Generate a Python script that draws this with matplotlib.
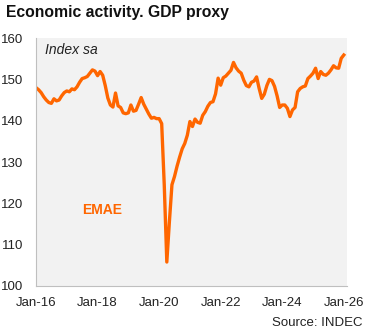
import numpy as np
import matplotlib
matplotlib.use("Agg")
from matplotlib import pyplot as plt

plt.rcParams["font.family"] = ["Liberation Sans", "DejaVu Sans"]

# EMAE monthly index (sa), Jan-2016 onwards
emae = [
    148.0, 147.5, 146.8, 145.8, 145.0, 144.4, 144.2, 145.3, 144.8, 145.0, 146.0, 146.8,  # 2016
    147.2, 147.0, 147.7, 147.5, 148.2, 149.3, 150.2, 150.4, 150.7, 151.5, 152.3, 152.0,  # 2017
    150.9, 151.9, 151.0, 148.5, 145.5, 143.8, 143.3, 146.7, 143.6, 143.2, 141.9, 141.7,  # 2018
    141.9, 143.8, 142.3, 142.5, 144.0, 145.6, 144.0, 142.8, 141.6, 140.6, 140.8, 140.5,  # 2019
    140.5, 139.3, 124.5, 105.8, 115.5, 124.5, 126.5, 129.0, 131.2, 133.2, 134.5, 136.5,  # 2020
    139.8, 138.6, 140.4, 139.6, 139.4, 141.3, 142.2, 143.5, 144.4, 144.6, 146.5, 150.3,  # 2021
    148.6, 150.4, 150.8, 151.5, 152.2, 154.1, 152.8, 152.0, 151.5, 149.8, 148.5, 148.2,  # 2022
    149.3, 149.6, 150.6, 147.8, 145.4, 146.4, 148.5, 150.0, 149.7, 148.3, 146.0, 143.2,  # 2023
    143.8, 143.8, 143.0, 141.0, 142.6, 143.2, 147.0, 147.8, 148.2, 148.4, 150.2, 150.8,  # 2024
    151.5, 152.7, 150.2, 151.9, 151.2, 151.0, 151.5, 152.3, 153.3, 152.8, 152.7, 155.1,  # 2025
    155.9,
]
tick_labels = ["Jan-16", "Jan-18", "Jan-20", "Jan-22", "Jan-24", "Jan-26"]

orange = "#FF6600"
months = np.arange(len(emae))

fig = plt.figure(figsize=(3.75, 3.31), dpi=100)
ax = fig.add_axes([0.096, 0.136, 0.829, 0.749])
ax.set_facecolor("#F2F2F2")

ax.plot(months, emae, color=orange, lw=2.4, solid_joinstyle="round")

ax.set_xlim(0, 121.2)
ax.set_ylim(100, 160)
ax.set_yticks(range(100, 161, 10))
ax.set_xticks(np.arange(0, 121, 24))
ax.set_xticklabels(tick_labels)
ax.tick_params(length=0, labelsize=9.5, colors="#222222")
ax.tick_params(axis="y", pad=9)
ax.tick_params(axis="x", pad=8)

for s in ["top", "right"]:
    ax.spines[s].set_visible(False)
for s in ["left", "bottom"]:
    ax.spines[s].set_color("#BFBFBF")
    ax.spines[s].set_linewidth(0.8)

ax.text(0.03, 0.95, "Index sa", transform=ax.transAxes, fontsize=10,
        style="italic", va="center", ha="left", color="#222222")
ax.text(0.213, 0.306, "EMAE", transform=ax.transAxes, fontsize=10,
        fontweight="bold", color=orange, ha="center", va="center")

fig.text(0.016, 0.962, "Economic activity. GDP proxy", fontsize=11.3,
         fontweight="bold", ha="left", va="center", color="#111111")
fig.text(0.968, 0.024, "Source: INDEC", fontsize=9.5, ha="right",
         va="center", color="#222222")

fig.savefig("out.png", dpi=100)
